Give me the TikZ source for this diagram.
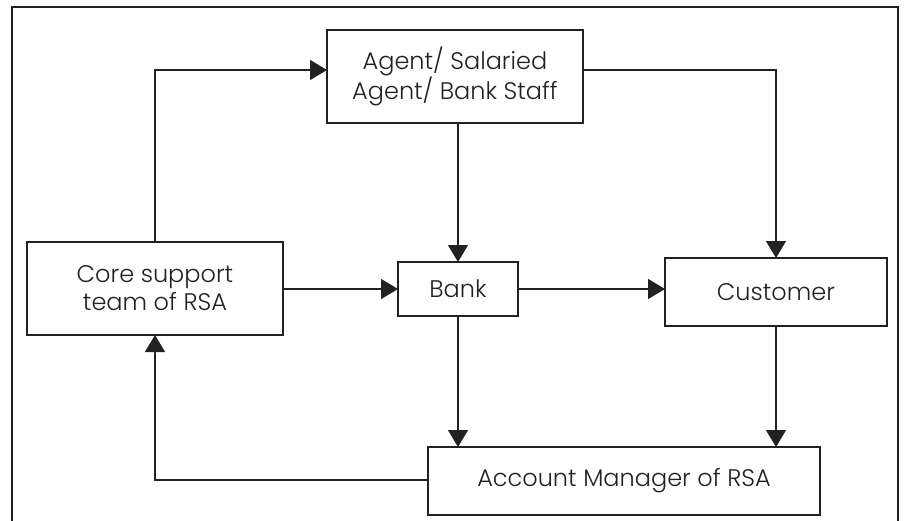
\documentclass[tikz,border=0pt]{standalone}
\usepackage{fontspec}
\setmainfont{Poppins Light}
\usetikzlibrary{arrows.meta}
\definecolor{ink}{HTML}{222222}
\begin{document}
\begin{tikzpicture}[x=1pt,y=-1pt,
  box/.style={draw=ink, line width=1.3pt, rectangle, inner sep=0pt, outer sep=0pt,
    align=center, text=ink, font=\fontsize{24}{28}\selectfont},
  flow/.style={draw=ink, line width=1.3pt, -{Triangle[length=17pt,width=20pt]}}]
  \useasboundingbox (0,0) rectangle (904,520);
  \fill[white] (0,0) rectangle (904,520);
  % frame round the whole chart, open at the foot of the page
  \begin{scope}
    \clip (0,0) rectangle (904,520);
    \draw[ink, line width=2.6pt] (12,7) rectangle (898,540);
  \end{scope}

  \node[box, minimum width=256pt, minimum height=93pt] (agent) at (455,76.5)
    {Agent/ Salaried\\Agent/ Bank Staff};
  \node[box, minimum width=256pt, minimum height=93pt] (core) at (155,288.5)
    {Core support\\team of RSA};
  \node[box, minimum width=120pt, minimum height=54pt] (bank) at (458,289) {Bank};
  \node[box, minimum width=222pt, minimum height=68pt] (customer) at (776,292) {Customer};
  \node[box, minimum width=392pt, minimum height=68pt] (account) at (624,481)
    {Account Manager of RSA};

  \draw[flow] (core.north) |- ([yshift=6.5pt]agent.west);
  \draw[flow] ([yshift=6.5pt]agent.east) -| (customer.north);
  \draw[flow] (bank.north |- agent.south) -- (bank.north);
  \draw[flow] (core.east |- bank.west) -- (bank.west);
  \draw[flow] (bank.east) -- (bank.east -| customer.west);
  \draw[flow] (bank.south) -- (bank.south |- account.north);
  \draw[flow] (customer.south) -- (customer.south |- account.north);
  \draw[flow] ([yshift=1pt]account.west) -| (core.south);
\end{tikzpicture}
\end{document}
